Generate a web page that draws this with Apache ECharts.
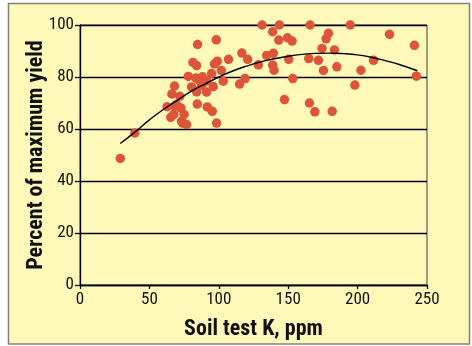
<!DOCTYPE html>
<html>
<head>
<meta charset="utf-8">
<script src="https://cdn.jsdelivr.net/npm/echarts@6/dist/echarts.min.js"></script>
<style>
html,body{margin:0;padding:0;background:#fff;}
#c{width:472px;height:346px;}
</style>
</head>
<body>
<div id="c"></div>
<script>
// Soil test K (ppm) and percent of maximum yield
const soilK = [29,39.5,62.8,65.4,66.2,68.1,71.9,69.5,72.7,67.6,75,73.9,76.8,68.3,78,81.4,84,84.7,80.4,84,84.5,83.5,86.4,88.3,87.6,91.2,91.7,95.3,98.4,96,94.8,96.9,98.9,98.2,101.8,103.2,107,115,116.6,118.9,120.8,128.5,131.2,134.5,138.8,139.3,138.8,139.8,143.6,143.2,147.3,149.4,150.4,152.8,153.3,164.8,165.3,165.8,169.2,171.8,174.4,175.4,177.3,179,181.7,183.3,185,194.7,198,202.4,211.5,223,240.9,242.3,91.2,73.2];
const yieldPct = [48.7,58.5,68.6,64.5,73.5,76.5,72.6,69.4,68.1,65.6,65.6,62.3,61.7,68.8,80.2,85.6,84.4,92.5,76.2,74.3,69.6,79.6,78.4,80.1,76.7,74.2,68.5,66.8,62.3,76.3,81.3,85,86.1,94.3,82.5,78.4,86.8,77.3,89.2,79.4,86.8,84.7,100,88.3,97.4,89.1,84.6,82.6,100,94.2,71.3,95.1,86.8,93.8,79.4,87.1,70,100,66.6,86.4,91,82.5,94.7,96.8,66.8,90.4,83.9,100,76.9,82.6,86.4,96.4,92.2,80.3,78.4,63];
// Fitted curve
const curveK = [29,40,50,60,70,80,90,100,110,120,130,140,150,160,170,180,190,200,210,220,230,243];
const curveY = [54.4,59,63.5,67.5,71,74.5,77.3,80,82.3,84.2,85.8,87,88,88.7,89.1,89.2,89,88.5,87.6,86.3,84.8,82.4];
const xTicks = [0,50,100,150,200,250];
const yTicks = [0,20,40,60,80,100];

const chart = echarts.init(document.getElementById('c'), null, {renderer:'canvas'});
const numFont = '"Liberation Sans Narrow","Roboto Condensed","DejaVu Sans Condensed",sans-serif';
chart.setOption({
  backgroundColor:'#ffffff',
  animation:false,
  graphic:[{type:'rect',z:-100,silent:true,shape:{x:8.5,y:3.5,width:461,height:340.5},style:{fill:'#FFF9B9',stroke:'#808080',lineWidth:1.5}}],
  grid:{left:80,right:45,top:25,bottom:61,show:true,borderColor:'#444',borderWidth:1,backgroundColor:'transparent'},
  xAxis:{type:'value',min:0,max:250,interval:50,
    axisLine:{show:true,lineStyle:{color:'#000',width:1.3}},
    axisTick:{show:true,length:4,lineStyle:{color:'#000',width:1.3}},
    splitLine:{show:false},
    axisLabel:{color:'#111',fontFamily:numFont,fontSize:17,margin:6,
      formatter:v=>xTicks.includes(v)?String(v):''},
    name:'Soil test K, ppm',nameLocation:'middle',nameGap:33,nameMoveOverlap:false,
    nameTextStyle:{color:'#111',fontFamily:numFont,fontWeight:'bold',fontSize:22}},
  yAxis:{type:'value',min:0,max:100,interval:20,
    axisLine:{show:true,lineStyle:{color:'#000',width:1.3}},
    axisTick:{show:true,length:5,lineStyle:{color:'#000',width:1.3}},
    splitLine:{show:true,lineStyle:{color:'#000',width:1.3}},
    axisLabel:{color:'#111',fontFamily:numFont,fontSize:17,margin:6,
      formatter:v=>yTicks.includes(v)?String(v):''},
    name:'Percent of maximum yield',nameLocation:'middle',nameGap:33,nameMoveOverlap:false,
    nameTextStyle:{color:'#111',fontFamily:numFont,fontWeight:'bold',fontSize:22}},
  series:[
    {type:'scatter',data:soilK.map((k,i)=>[k,yieldPct[i]]),symbolSize:9.5,
      itemStyle:{color:'#DC5539',opacity:1},z:3},
    {type:'line',data:curveK.map((k,i)=>[k,curveY[i]]),smooth:true,showSymbol:false,
      lineStyle:{color:'#000',width:1.4},z:4}
  ]
});
</script>
</body>
</html>
